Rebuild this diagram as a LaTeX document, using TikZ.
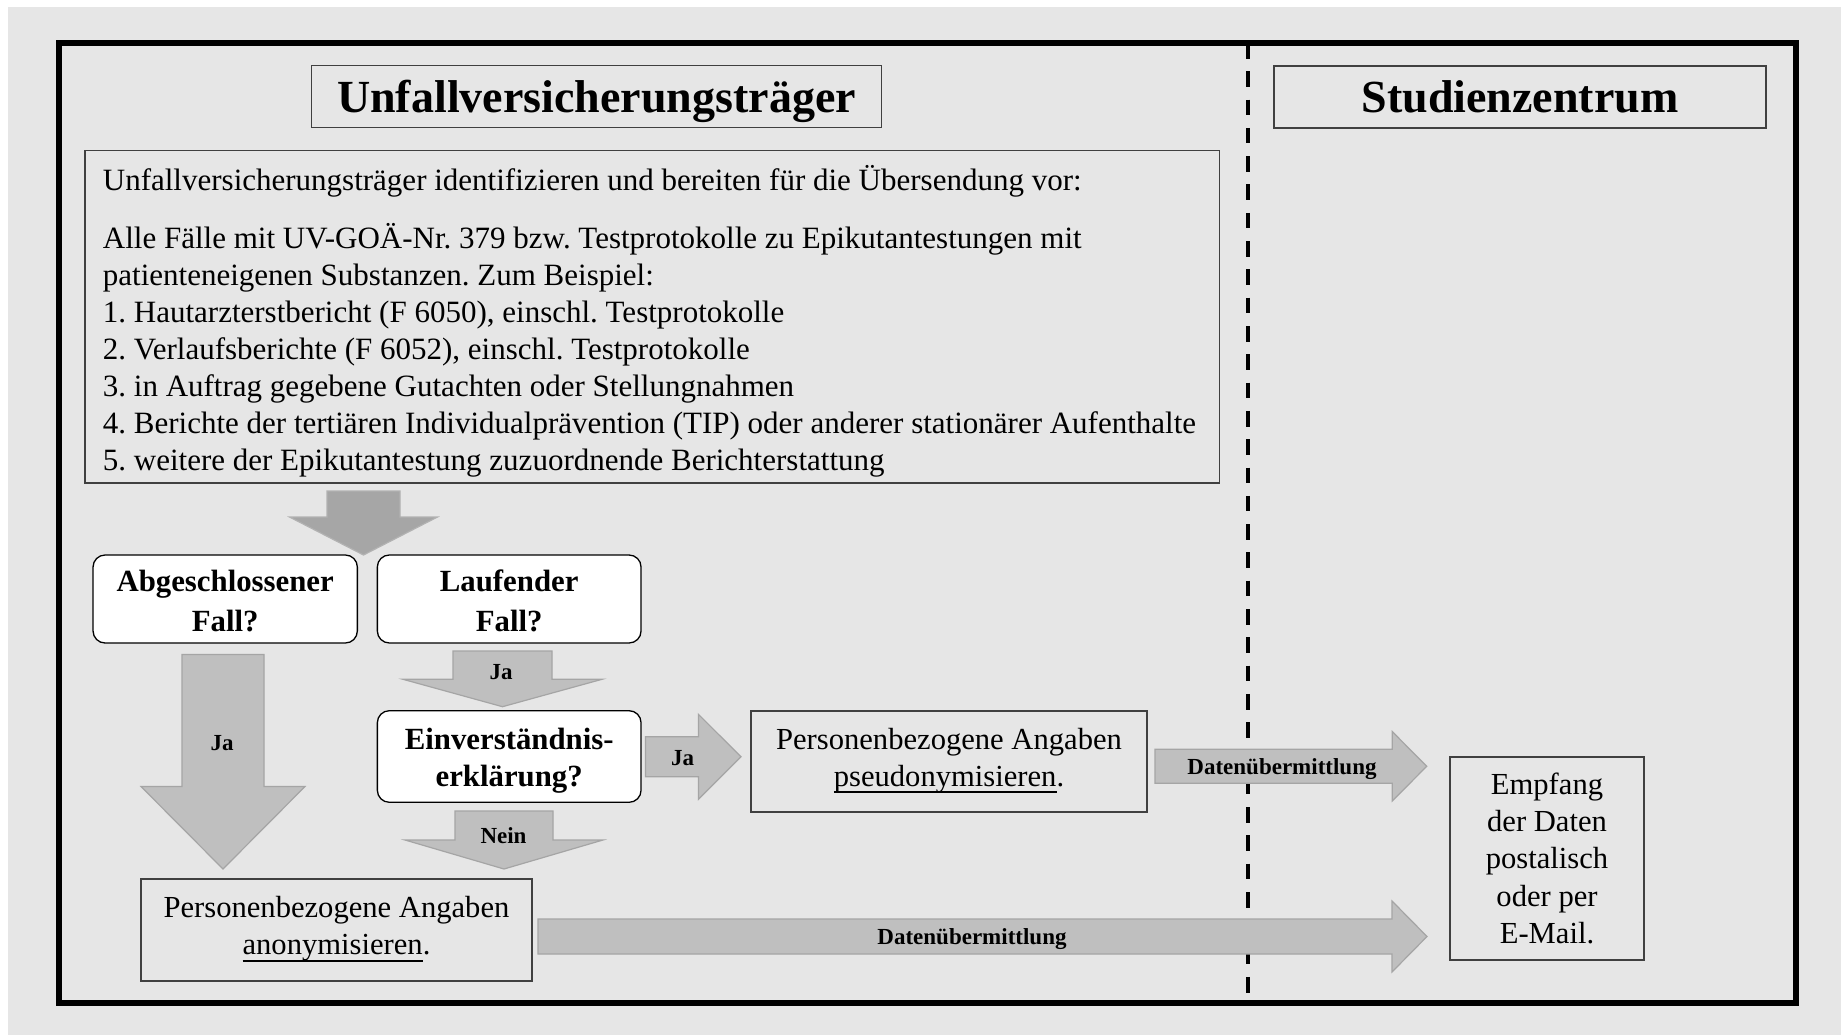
\documentclass[tikz,border=0pt]{standalone}
\usepackage{fontspec}
\setmainfont{Liberation Serif}
\frenchspacing
\definecolor{pagegray}{RGB}{230,230,230}
\definecolor{boxline}{RGB}{64,64,64}
\definecolor{arrowfill}{RGB}{191,191,191}
\definecolor{arrowline}{RGB}{165,165,165}
\definecolor{arrowdark}{RGB}{166,166,166}
\definecolor{arrowdarkline}{RGB}{178,178,178}
% underlined word with the rule set a little below the baseline
\newcommand\ulword[1]{\setbox0\hbox{#1}\rlap{\rule[-7pt]{\wd0}{1.8pt}}\box0}
% block arrow pointing down: style, centre x, top, shaft half width, head half width, head y, tip y
\newcommand\blockdown[7]{\draw[#1] (#2-#4,#3) -- (#2+#4,#3) -- (#2+#4,#6) -- (#2+#5,#6) -- (#2,#7) -- (#2-#5,#6) -- (#2-#4,#6) -- cycle;}
% block arrow pointing right: style, left x, centre y, shaft half height, head half height, head x, tip x
\newcommand\blockright[7]{\draw[#1] (#2,#3-#4) -- (#6,#3-#4) -- (#6,#3-#5) -- (#7,#3) -- (#6,#3+#5) -- (#6,#3+#4) -- (#2,#3+#4) -- cycle;}
\begin{document}
\begin{tikzpicture}[x=1pt,y=-1pt,
  frame/.style={draw=black,line width=5.5pt},
  divider/.style={draw=black,line width=4pt,dash pattern=on 15.6pt off 12.7pt},
  plainbox/.style={draw=boxline,line width=1.3pt,inner sep=0pt},
  decbox/.style={draw=black,fill=white,line width=1.3pt,rounded corners=12pt,inner sep=0pt},
  blockarrow/.style={fill=arrowfill,draw=arrowline,line width=1.2pt},
  firstarrow/.style={fill=arrowdark,draw=arrowdarkline,line width=1.2pt},
  titletext/.style={font=\fontsize{46}{52}\selectfont\bfseries,inner sep=0pt,anchor=base},
  bodyline/.style={font=\fontsize{31}{37}\selectfont,inner sep=0pt,anchor=base west},
  boxtext/.style={font=\fontsize{30.6}{37}\selectfont,inner sep=0pt,anchor=base},
  dectext/.style={font=\fontsize{30.8}{37}\selectfont\bfseries,inner sep=0pt,anchor=base},
  arrowlabel/.style={font=\fontsize{23}{26}\selectfont\bfseries,inner sep=0pt,anchor=base},
]
% page and grey panel
\fill[white] (0,0) rectangle (1841,1035);
\fill[pagegray] (8,7) rectangle (1841,1035);
\useasboundingbox (0,0) rectangle (1841,1035);

% dashed divider between the two parties
\coordinate (divtop) at (1248,43);
\coordinate (divbot) at (1248,1003);
\draw[divider] (divtop) -- (divbot);

% outer frame
\draw[frame] (59,43) rectangle (1796,1003);

% headings
\node[plainbox,minimum width=570pt,minimum height=62pt] (uvtbox) at (596.5,96.4) {};
\node[titletext] (uvttitle) at (596.5,113) {Unfallversicherungsträger};
\node[plainbox,minimum width=492pt,minimum height=62pt] (szbox) at (1520,97) {};
\node[titletext] (sztitle) at (1520,113) {Studienzentrum};

% preparation box
\node[plainbox,minimum width=1134.3pt,minimum height=332.5pt] (prep) at (652.2,316.8) {};
\node[bodyline] (prep1) at (102.7,190) {Unfallversicherungsträger identifizieren und bereiten für die Übersendung vor:};
\node[bodyline] (prep2) at (102.7,248.2) {Alle Fälle mit UV-GOÄ-Nr. 379 bzw. Testprotokolle zu Epikutantestungen mit};
\node[bodyline] (prep3) at (102.7,285.3) {patienteneigenen Substanzen. Zum Beispiel:};
\node[bodyline] (prep4) at (102.7,322.3) {1. Hautarzterstbericht (F 6050), einschl. Testprotokolle};
\node[bodyline] (prep5) at (102.7,359.4) {2. Verlaufsberichte (F 6052), einschl. Testprotokolle};
\node[bodyline] (prep6) at (102.7,396.4) {3. in Auftrag gegebene Gutachten oder Stellungnahmen};
\node[bodyline] (prep7) at (102.7,433.5) {4. Berichte der tertiären Individualprävention (TIP) oder anderer stationärer Aufenthalte};
\node[bodyline] (prep8) at (102.7,470.5) {5. weitere der Epikutantestung zuzuordnende Berichterstattung};

% decision boxes
\node[decbox,minimum width=264.3pt,minimum height=88pt] (closed) at (225.2,599) {};
\node[dectext] (closed1) at (225.2,591.5) {Abgeschlossener};
\node[dectext] (closed2) at (225.2,631) {Fall?};
\node[decbox,minimum width=263.7pt,minimum height=88pt] (running) at (509.2,599) {};
\node[dectext] (running1) at (509.2,591.5) {Laufender};
\node[dectext] (running2) at (509.2,631) {Fall?};
\node[decbox,minimum width=263.7pt,minimum height=91.6pt] (consent) at (509.2,756.5) {};
\node[dectext] (consent1) at (509.2,749) {Einverständnis-};
\node[dectext] (consent2) at (509.2,786.5) {erklärung?};

% result boxes
\node[plainbox,minimum width=396pt,minimum height=101pt] (pseudo) at (949,761.5) {};
\node[boxtext] (pseudo1) at (949,749) {Personenbezogene Angaben};
\node[boxtext] (pseudo2) at (949,786) {\ulword{pseudonymisieren}.};
\node[plainbox,minimum width=391pt,minimum height=102pt] (anon) at (336.5,930) {};
\node[boxtext] (anon1) at (336.5,917.5) {Personenbezogene Angaben};
\node[boxtext] (anon2) at (336.5,954.5) {\ulword{anonymisieren}.};
\node[plainbox,minimum width=194pt,minimum height=203pt] (receive) at (1547,858.5) {};
\node[boxtext] (receive1) at (1547,794) {Empfang};
\node[boxtext] (receive2) at (1547,831) {der Daten};
\node[boxtext] (receive3) at (1547,868.5) {postalisch};
\node[boxtext] (receive4) at (1547,906) {oder per};
\node[boxtext] (receive5) at (1547,943) {E-Mail.};

% block arrows
\blockdown{firstarrow}{363.5}{491}{36.5}{74}{517}{555}
\blockdown{blockarrow}{223}{654.5}{41}{82}{786.5}{869}
\node[arrowlabel] (jaclosed) at (222,750) {Ja};
\blockdown{blockarrow}{502.5}{651}{49.5}{99.5}{679.3}{706.7}
\node[arrowlabel] (jarunning) at (501,679.5) {Ja};
\blockdown{blockarrow}{504}{811}{49}{99}{840}{869}
\node[arrowlabel] (nein) at (503.5,843) {Nein};
\blockright{blockarrow}{645.5}{756.8}{20}{42.5}{698.4}{741}
\node[arrowlabel] (jaconsent) at (682.5,765.5) {Ja};
\blockright{blockarrow}{1155}{766.3}{17}{34.7}{1392.3}{1426.7}
\node[arrowlabel] (sendpseudo) at (1282,774) {Datenübermittlung};
\blockright{blockarrow}{538}{936.5}{17.5}{35.5}{1392}{1427}
\node[arrowlabel] (sendanon) at (972,944) {Datenübermittlung};
\end{tikzpicture}
\end{document}
